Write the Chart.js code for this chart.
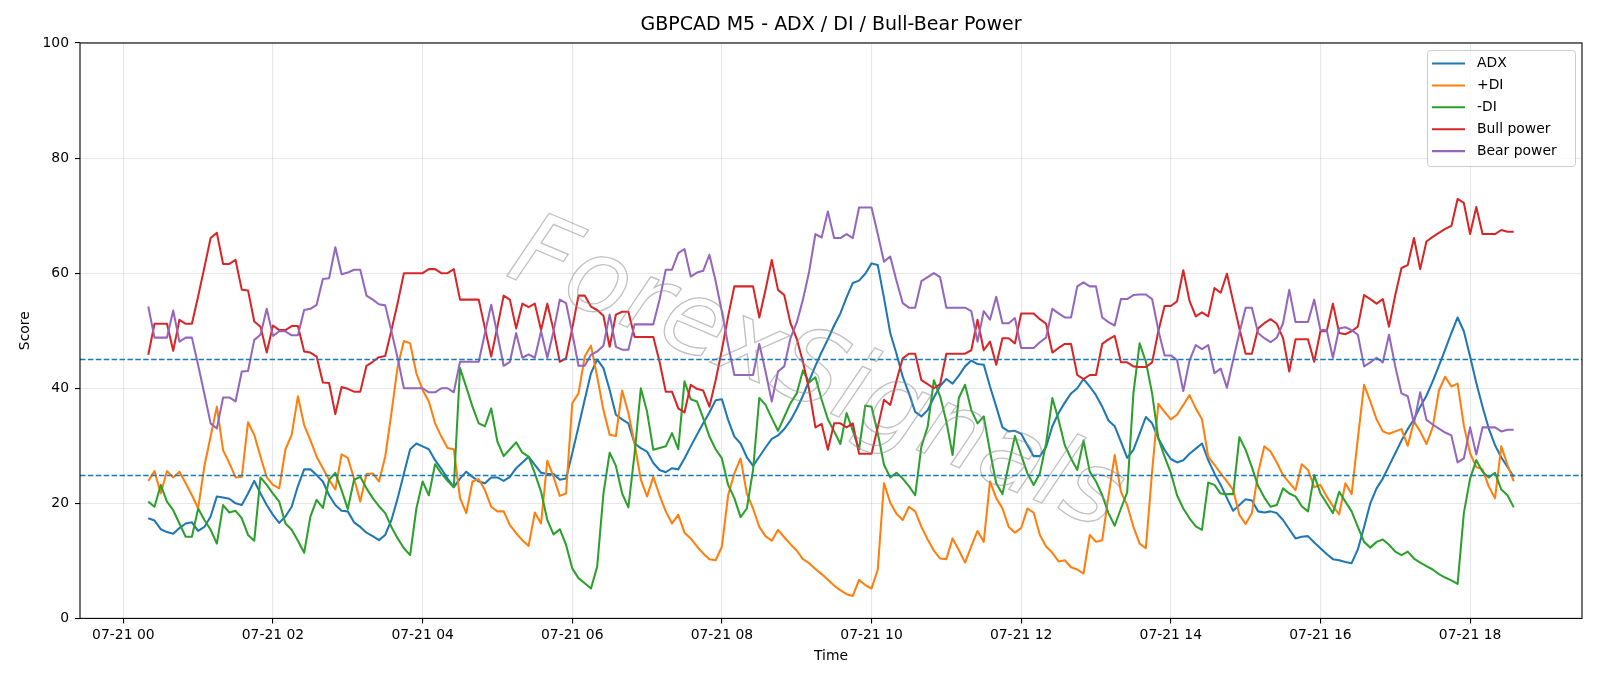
<!DOCTYPE html>
<html><head><meta charset="utf-8">
<script src="https://cdn.jsdelivr.net/npm/chart.js@4.4.1/dist/chart.umd.min.js"></script>
<style>html,body{margin:0;padding:0;background:#fff;}#wrap{width:1600px;height:686px;}</style>
</head><body><div id="wrap"><canvas id="c" width="1600" height="686"></canvas></div>
<script>
const chartTitle = 'GBPCAD M5 - ADX / DI / Bull-Bear Power';
const xTitle = 'Time';
const yTitle = 'Score';
const dateLabel = '07-21';
const startMinute = 20;
const stepMinutes = 5;
const tickHours = [0, 2, 4, 6, 8, 10, 12, 14, 16, 18];
const yTicks = [0, 20, 40, 60, 80, 100];
const thresholds = [45, 25];
const seriesNames = ['ADX', '+DI', '-DI', 'Bull power', 'Bear power'];
const watermark = 'ForexSignals';

const adx = [17.4,17.0,15.5,15.0,14.7,15.7,16.5,16.7,15.2,15.9,17.7,21.2,21.0,20.8,20.0,19.7,21.7,23.9,21.7,19.7,18.0,16.6,17.7,19.4,
23.0,25.9,25.9,24.9,23.8,21.4,19.7,18.7,18.6,16.7,15.9,14.9,14.3,13.6,14.5,17.1,20.9,25.2,29.4,30.4,29.9,29.4,27.5,26.0,24.3,
22.8,24.3,25.5,24.6,23.8,23.5,24.5,24.5,23.9,24.6,26.1,27.1,28.1,26.7,25.3,25.1,25.1,24.1,24.3,28.7,33.3,38.0,42.6,45.0,
43.5,39.7,35.4,34.6,33.9,30.4,29.6,29.0,27.0,25.8,25.4,26.1,25.9,27.8,29.9,31.9,33.9,35.8,37.9,38.1,34.5,31.6,30.4,28.0,
26.5,28.1,29.7,31.2,31.8,32.9,34.4,36.4,38.7,41.3,43.9,46.3,48.5,50.9,53.0,55.8,58.3,58.7,59.9,61.7,61.4,55.7,49.6,46.0,
42.0,39.1,35.9,35.1,36.2,38.4,40.4,41.6,40.8,42.2,43.8,44.8,44.2,44.1,40.3,36.8,33.2,32.5,32.6,32.1,30.1,28.2,28.2,29.8,
33.4,35.7,37.5,39.1,40.0,41.6,40.3,38.8,36.8,34.4,33.4,30.7,27.9,29.3,32.1,35.0,33.9,31.3,29.3,27.7,27.1,27.5,28.6,29.5,
30.4,27.5,25.2,23.2,20.9,18.7,19.7,20.7,20.5,18.6,18.4,18.6,18.3,17.1,15.5,13.9,14.2,14.3,13.2,12.2,11.2,10.3,10.1,9.8,
9.6,12.0,15.9,20.0,22.6,24.3,26.5,28.7,30.9,32.9,34.6,36.8,38.7,41.2,43.9,46.7,49.6,52.3,49.9,45.5,40.9,36.8,33.0,30.1,28.0,26.3,24.6];

const plusDI = [23.9,25.6,21.7,25.6,24.5,25.5,23.5,21.4,19.1,26.5,31.6,36.8,29.2,27.0,24.5,24.6,34.1,31.9,28.1,24.5,23.2,22.6,29.4,31.9,
38.6,33.6,31.0,28.1,26.1,24.1,22.4,28.5,27.9,24.3,20.3,25.1,25.2,23.8,28.1,35.7,43.8,48.2,47.8,42.6,39.7,37.7,33.9,31.6,29.6,
29.4,20.9,18.3,23.8,24.2,22.3,19.4,18.6,18.6,16.2,14.8,13.6,12.6,18.4,16.5,27.4,24.6,21.3,21.7,37.4,39.1,45.5,47.4,42.0,
36.2,31.9,31.7,39.6,35.7,30.4,24.1,21.2,24.6,21.4,18.6,16.5,18.0,14.9,13.9,12.5,11.3,10.3,10.1,12.5,21.4,25.2,27.8,21.7,
19.1,15.9,14.3,13.5,15.4,14.1,12.9,11.8,10.3,9.6,8.6,7.7,6.7,5.7,4.9,4.2,3.9,6.7,5.8,5.2,8.5,23.5,20.1,18.2,
17.1,19.4,18.6,15.9,13.7,11.8,10.4,10.3,13.9,11.9,9.7,12.5,15.2,13.3,23.8,20.9,19.1,15.9,14.9,15.7,19.1,18.4,14.5,12.5,
11.4,9.9,10.1,8.9,8.5,7.8,14.5,13.3,13.6,21.2,28.4,22.0,19.7,15.9,13.0,12.2,25.5,37.3,35.9,34.6,35.4,37.1,38.8,36.5,
34.6,28.1,26.7,25.2,23.8,22.3,18.0,16.4,18.3,25.3,29.9,29.0,27.1,24.9,23.6,22.3,26.8,25.8,22.8,23.2,21.2,19.5,18.1,23.5,
21.6,31.3,40.6,37.7,34.6,32.5,32.1,32.5,32.9,30.0,34.2,32.5,30.3,33.2,39.6,42.0,40.3,40.8,33.5,28.7,26.3,25.9,22.9,20.9,29.9,26.7,23.8];

const minusDI = [20.3,19.4,23.2,20.3,18.8,16.5,14.2,14.2,19.1,17.1,15.4,13.0,19.7,18.4,18.7,17.4,14.5,13.5,24.5,23.2,21.7,20.3,16.5,15.4,
13.5,11.4,17.7,20.6,19.2,24.1,25.3,22.3,19.0,24.1,24.6,22.6,20.9,19.5,18.3,15.9,13.9,12.2,11.0,19.1,23.8,21.4,26.8,25.2,23.9,
22.8,43.5,40.2,36.8,33.9,33.4,36.5,30.7,28.2,29.4,30.6,28.8,28.1,25.2,22.0,17.1,14.6,15.5,12.8,8.7,7.0,6.1,5.2,9.0,
21.7,28.8,26.5,21.7,19.3,28.7,40.0,35.9,29.3,29.6,29.9,32.2,29.4,41.2,38.1,37.7,34.8,31.6,29.4,27.8,23.2,20.9,17.6,19.1,
25.8,38.3,37.1,34.8,32.6,35.0,37.4,39.1,43.1,41.0,41.9,38.0,34.6,32.5,30.3,35.7,32.6,29.4,37.0,36.8,32.2,26.7,24.5,25.3,
24.3,23.0,21.4,29.9,33.3,41.4,38.6,34.2,28.4,38.3,40.6,36.2,33.9,35.1,29.0,23.5,21.6,26.7,31.7,28.4,25.2,23.2,25.2,30.4,
38.3,34.5,30.1,27.8,25.8,30.9,25.5,23.8,21.4,18.3,16.1,19.1,21.9,39.1,47.8,44.6,39.1,31.3,28.1,25.3,21.4,19.1,17.4,16.0,
15.4,23.6,23.2,21.7,21.6,21.6,31.5,29.3,26.3,23.0,21.0,19.4,19.7,22.6,21.7,21.2,19.5,18.6,24.9,21.7,20.0,18.3,22.0,20.3,
18.6,15.9,13.3,12.3,13.3,13.7,12.8,11.6,11.0,11.6,10.4,9.7,9.1,8.5,7.7,7.1,6.6,6.0,18.3,24.3,27.5,25.5,24.5,25.3,22.4,21.4,19.3];

const bullPower = [45.8,51.2,51.2,51.2,46.5,51.9,51.2,51.2,56.0,61.0,66.1,67.0,61.6,61.6,62.3,57.1,57.0,51.6,50.7,46.2,50.9,50.1,50.1,50.8,
50.8,46.4,46.2,45.5,41.0,40.9,35.5,40.2,39.9,39.4,39.4,43.9,44.6,45.4,45.6,50.1,54.8,60.0,60.0,60.0,60.0,60.7,60.7,60.0,60.0,
60.7,55.4,55.4,55.4,55.4,50.4,45.5,50.7,56.1,55.4,50.4,54.7,54.1,54.7,50.1,54.7,50.1,44.6,45.2,50.4,56.1,56.1,54.2,53.6,
52.6,47.2,52.8,53.3,53.3,48.9,48.9,48.9,48.9,44.6,39.4,39.4,36.5,35.8,40.6,39.9,39.6,36.8,41.4,46.7,52.5,57.7,57.7,57.7,
57.7,52.3,57.1,62.3,57.1,56.2,51.3,48.6,44.6,39.7,33.2,33.8,29.3,33.9,33.9,33.2,33.9,28.6,28.6,28.6,33.2,38.0,37.1,41.3,
45.2,46.0,46.0,41.4,40.7,40.0,40.7,46.0,46.0,46.0,46.0,46.6,51.9,46.6,48.1,44.1,48.7,48.7,47.8,53.0,53.0,53.0,52.0,51.2,
46.2,47.0,47.7,47.7,42.3,41.6,42.3,42.3,47.7,48.5,49.1,44.5,44.5,43.8,43.7,43.7,44.5,49.9,54.3,54.3,55.1,60.5,55.2,52.5,
53.2,52.5,57.4,56.6,59.9,55.1,50.4,46.0,46.0,50.4,51.3,52.0,51.2,48.7,42.9,48.5,48.5,48.5,44.6,49.9,49.9,54.7,49.6,49.4,
49.9,50.7,56.2,55.5,54.7,55.5,50.7,56.2,60.9,61.4,66.1,60.7,65.5,66.3,67.0,67.7,68.2,72.9,72.2,66.8,71.5,66.8,66.8,66.8,67.5,67.2,67.2];

const bearPower = [54.2,48.8,48.8,48.8,53.5,48.1,48.8,48.8,44.0,39.0,33.9,33.0,38.4,38.4,37.7,42.9,43.0,48.4,49.3,53.8,49.1,49.9,49.9,49.2,
49.2,53.6,53.8,54.5,59.0,59.1,64.5,59.8,60.1,60.6,60.6,56.1,55.4,54.6,54.4,49.9,45.2,40.0,40.0,40.0,40.0,39.3,39.3,40.0,40.0,
39.3,44.6,44.6,44.6,44.6,49.6,54.5,49.3,43.9,44.6,49.6,45.3,45.9,45.3,49.9,45.3,49.9,55.4,54.8,49.6,43.9,43.9,45.8,46.4,
47.4,52.8,47.2,46.7,46.7,51.1,51.1,51.1,51.1,55.4,60.6,60.6,63.5,64.2,59.4,60.1,60.4,63.2,58.6,53.3,47.5,42.3,42.3,42.3,
42.3,47.7,42.9,37.7,42.9,43.8,48.7,51.4,55.4,60.3,66.8,66.2,70.7,66.1,66.1,66.8,66.1,71.4,71.4,71.4,66.8,62.0,62.9,58.7,
54.8,54.0,54.0,58.6,59.3,60.0,59.3,54.0,54.0,54.0,54.0,53.4,48.1,53.4,51.9,55.9,51.3,51.3,52.2,47.0,47.0,47.0,48.0,48.8,
53.8,53.0,52.3,52.3,57.7,58.4,57.7,57.7,52.3,51.5,50.9,55.5,55.5,56.2,56.3,56.3,55.5,50.1,45.7,45.7,44.9,39.5,44.8,47.5,
46.8,47.5,42.6,43.4,40.1,44.9,49.6,54.0,54.0,49.6,48.7,48.0,48.8,51.3,57.1,51.5,51.5,51.5,55.4,50.1,50.1,45.3,50.4,50.6,
50.1,49.3,43.8,44.5,45.3,44.5,49.3,43.8,39.1,38.6,33.9,39.3,34.5,33.7,33.0,32.3,31.8,27.1,27.8,33.2,28.5,33.2,33.2,33.2,32.5,32.8,32.8];

const colors = ['#1f77b4', '#ff7f0e', '#2ca02c', '#d62728', '#9467bd'];
const seriesData = [adx, plusDI, minusDI, bullPower, bearPower];
const minutes = adx.map((_, i) => startMinute + i * stepMinutes);
const xPad = (minutes[minutes.length - 1] - minutes[0]) * 0.05;
const FONT = '"DejaVu Sans", sans-serif';

const datasets = seriesData.map((arr, k) => ({
  label: seriesNames[k],
  data: arr.map((v, i) => ({ x: minutes[i], y: v })),
  borderColor: colors[k],
  backgroundColor: colors[k],
  borderWidth: 2.05,
  pointRadius: 0,
  tension: 0,
  fill: false,
  order: seriesNames.length - k,
  borderJoinStyle: 'round',
  borderCapStyle: 'butt'
}));

const deco = {
  id: 'deco',
  afterDatasetsDraw(chart) {
    const { ctx, chartArea: a, scales: { y } } = chart;
    ctx.save();
    ctx.beginPath(); ctx.rect(a.left, a.top, a.right - a.left, a.bottom - a.top); ctx.clip();
    ctx.save();
    ctx.translate(815, 378);
    ctx.rotate(23 * Math.PI / 180);
    ctx.font = 'italic 102px "DejaVu Sans"';
    ctx.textAlign = 'center'; ctx.textBaseline = 'middle';
    ctx.strokeStyle = 'rgba(140,140,140,0.55)';
    ctx.lineWidth = 1.3;
    ctx.strokeText(watermark, 0, 0);
    ctx.restore();
    ctx.strokeStyle = '#1f77b4'; ctx.lineWidth = 1.4; ctx.setLineDash([5.5, 2.4]);
    thresholds.forEach(t => {
      const py = Math.round(y.getPixelForValue(t)) + 0.5;
      ctx.beginPath(); ctx.moveTo(a.left, py); ctx.lineTo(a.right, py); ctx.stroke();
    });
    ctx.restore();
  },
  afterDraw(chart) {
    const { ctx, chartArea: a } = chart;
    ctx.save();
    ctx.strokeStyle = '#000'; ctx.lineWidth = 1.1;
    ctx.strokeRect(a.left, a.top, a.right - a.left, a.bottom - a.top);
    ctx.fillStyle = '#000';
    ctx.textAlign = 'center'; ctx.textBaseline = 'middle';
    ctx.font = '19px ' + FONT;
    ctx.fillText(chartTitle, (a.left + a.right) / 2, 25.5);
    ctx.font = '13.9px ' + FONT;
    ctx.fillText(xTitle, (a.left + a.right) / 2, 656);
    ctx.save();
    ctx.translate(25.5, (a.top + a.bottom) / 2);
    ctx.rotate(-Math.PI / 2);
    ctx.fillText(yTitle, 0, 0);
    ctx.restore();
    const lx = 1427.5, ly = 50.5, lw = 148, lh = 116;
    ctx.beginPath();
    if (ctx.roundRect) ctx.roundRect(lx, ly, lw, lh, 3); else ctx.rect(lx, ly, lw, lh);
    ctx.fillStyle = 'rgba(255,255,255,0.8)'; ctx.fill();
    ctx.strokeStyle = '#cccccc'; ctx.lineWidth = 1; ctx.stroke();
    ctx.textAlign = 'left'; ctx.textBaseline = 'middle';
    ctx.font = '13.9px ' + FONT;
    chart.data.datasets.forEach((ds, k) => {
      const yy = 63.5 + k * 21.9;
      ctx.strokeStyle = ds.borderColor; ctx.lineWidth = 2.05;
      ctx.beginPath(); ctx.moveTo(1432, yy); ctx.lineTo(1465, yy); ctx.stroke();
      ctx.fillStyle = '#000';
      ctx.fillText(ds.label, 1477, yy);
    });
    ctx.restore();
  }
};

new Chart(document.getElementById('c'), {
  type: 'line',
  data: { datasets },
  options: {
    responsive: false,
    animation: false,
    devicePixelRatio: 1,
    layout: { padding: { top: 43, right: 18, left: 0, bottom: 0 } },
    plugins: { legend: { display: false }, tooltip: { enabled: false }, title: { display: false } },
    scales: {
      x: {
        type: 'linear',
        min: minutes[0] - xPad,
        max: minutes[minutes.length - 1] + xPad,
        afterBuildTicks: ax => { ax.ticks = tickHours.map(h => ({ value: h * 60 })); },
        afterFit: ax => { ax.height = 67.6; },
        ticks: {
          callback: v => dateLabel + ' ' + String(Math.round(v / 60)).padStart(2, '0'),
          color: '#000', font: { family: FONT, size: 13.9 }, padding: 4, maxRotation: 0, autoSkip: false
        },
        grid: { color: 'rgba(176,176,176,0.3)', lineWidth: 1.1, tickColor: '#000', tickLength: 5, drawTicks: true },
        border: { display: false }
      },
      y: {
        min: 0, max: 100,
        afterBuildTicks: ax => { ax.ticks = yTicks.map(v => ({ value: v })); },
        afterFit: ax => { ax.width = 80; },
        ticks: { color: '#000', font: { family: FONT, size: 13.9 }, padding: 6 },
        grid: { color: 'rgba(176,176,176,0.3)', lineWidth: 1.1, tickColor: '#000', tickLength: 5, drawTicks: true },
        border: { display: false }
      }
    }
  },
  plugins: [deco]
});
</script>
</body></html>
